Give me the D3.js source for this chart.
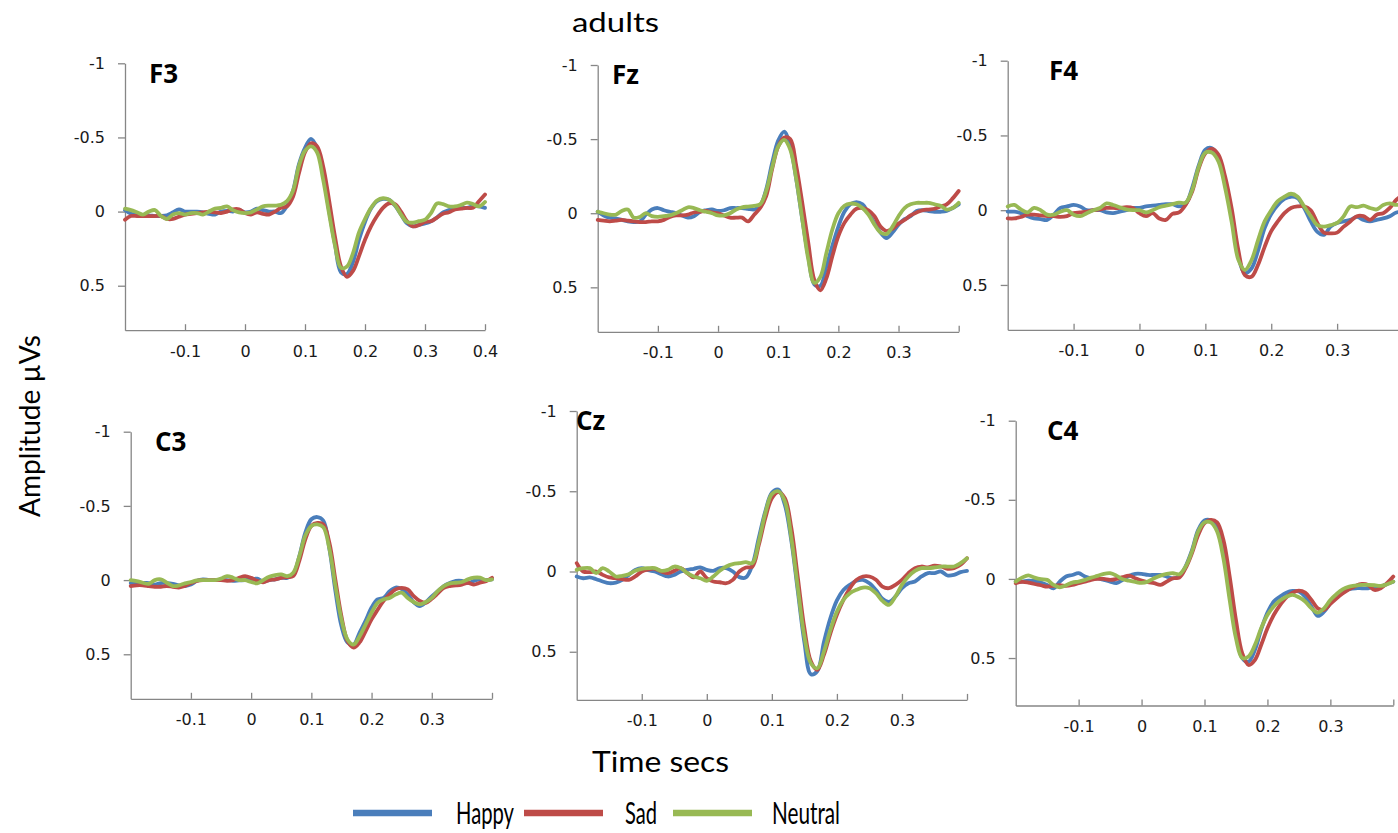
<!DOCTYPE html>
<html><head><meta charset="utf-8">
<script src="https://cdn.jsdelivr.net/npm/d3@7"></script>
<style>body{margin:0;background:#fff} svg{display:block}</style>
</head><body><svg id="chart" width="1398" height="833"></svg>
<script>
// ---------- data ----------
const time = [-0.2,-0.19,-0.18,-0.17,-0.16,-0.15,-0.14,-0.13,-0.12,-0.11,-0.1,-0.09,-0.08,-0.07,-0.06,-0.05,-0.04,-0.03,-0.02,-0.01,
  0,0.01,0.02,0.03,0.04,0.05,0.06,0.07,0.08,0.09,0.1,0.11,0.12,0.13,0.14,0.15,0.16,0.17,0.18,0.19,
  0.2,0.21,0.22,0.23,0.24,0.25,0.26,0.27,0.28,0.29,0.3,0.31,0.32,0.33,0.34,0.35,0.36,0.37,0.38,0.39,0.4];
const conditions = ["Happy","Sad","Neutral"];
const electrodes = ["F3","Fz","F4","C3","Cz","C4"];
const yTickValues = [-1,-0.5,0,0.5];
const xTickValues = [-0.1,0,0.1,0.2,0.3,0.4];

const F3_happy = [-0.01,0.015,0.02,0.025,0.025,0.03,0.03,0.025,0.005,-0.015,0,0,0,0.005,0.015,0.02,0,-0.005,0,-0.01,0.005,0,-0.02,-0.01,0,0,0.01,
  -0.04,-0.14,-0.32,-0.43,-0.49,-0.43,-0.26,-0.01,0.22,0.41,0.42,0.34,0.19,0.07,-0.02,-0.07,-0.085,-0.08,-0.04,0.02,0.08,0.10,0.09,0.08,0.065,0.04,0.005,-0.01,-0.025,-0.025,-0.025,-0.035,-0.035,-0.025];
const F3_sad = [0.055,0.03,0.03,0.03,0.03,0.03,0.03,0.05,0.05,0.035,0.02,0.015,0.01,0.005,0,0.005,0.01,0,-0.015,-0.015,0.01,0.02,0.005,0.015,0.02,0,-0.025,
  -0.035,-0.10,-0.26,-0.40,-0.46,-0.44,-0.31,-0.08,0.17,0.37,0.44,0.40,0.30,0.19,0.10,0.03,-0.025,-0.055,-0.05,0.00,0.065,0.10,0.09,0.07,0.065,0.04,0.015,0.005,-0.015,-0.02,-0.025,-0.025,-0.07,-0.115];
const F3_neutral = [-0.02,-0.01,0.005,0.02,0,-0.01,0.03,0.05,0.02,0.01,0.02,0.01,0.01,0.02,0,-0.02,-0.025,-0.035,-0.01,0.005,0.01,0.005,-0.015,-0.035,-0.04,-0.04,-0.045,
  -0.07,-0.14,-0.31,-0.41,-0.44,-0.40,-0.22,0.01,0.23,0.38,0.37,0.28,0.14,0.05,-0.025,-0.075,-0.09,-0.08,-0.045,0.02,0.07,0.075,0.065,0.055,0.01,-0.055,-0.05,-0.035,-0.035,-0.045,-0.06,-0.05,-0.035,-0.065];

const Fz_happy = [-0.01,0.015,0.03,0.035,0.045,0.055,0.06,0.055,0.01,-0.025,-0.035,-0.02,-0.01,0,0.015,0.03,0.02,-0.01,-0.02,-0.025,-0.015,-0.02,-0.035,-0.035,-0.035,-0.03,-0.025,
  -0.05,-0.16,-0.34,-0.49,-0.55,-0.45,-0.23,0.04,0.29,0.48,0.49,0.36,0.22,0.09,-0.01,-0.06,-0.075,-0.06,0.00,0.065,0.13,0.167,0.13,0.077,0.04,0.02,-0.015,-0.02,-0.015,-0.01,-0.01,-0.015,-0.035,-0.06];
const Fz_sad = [0.045,0.05,0.055,0.05,0.045,0.05,0.055,0.06,0.06,0.055,0.055,0.045,0.025,0.015,0.015,0.01,-0.005,-0.01,-0.015,-0.005,0,0.015,0.03,0.03,0.03,0.055,0.01,
  -0.035,-0.115,-0.30,-0.45,-0.51,-0.50,-0.32,-0.07,0.20,0.45,0.52,0.44,0.29,0.155,0.065,0.01,-0.03,-0.035,-0.02,0.02,0.09,0.12,0.105,0.07,0.045,0.015,-0.005,-0.02,-0.025,-0.03,-0.045,-0.06,-0.10,-0.15];
const Fz_neutral = [-0.01,0,0.01,0.01,-0.015,-0.025,0.03,0.025,0,0.02,0.025,0.02,0.015,0,-0.02,-0.04,-0.035,-0.02,-0.01,0,0.015,0.015,0,-0.025,-0.04,-0.045,-0.05,
  -0.06,-0.15,-0.31,-0.45,-0.495,-0.43,-0.23,0.04,0.31,0.47,0.43,0.27,0.11,0.00,-0.05,-0.065,-0.06,-0.035,0.01,0.077,0.13,0.14,0.09,0.02,-0.035,-0.06,-0.07,-0.07,-0.07,-0.06,-0.05,-0.025,-0.035,-0.07];

const F4_happy = [0.01,0.01,0.02,0.04,0.055,0.06,0.065,0.03,-0.015,-0.025,-0.035,-0.025,0,0,0,0.015,0.02,0.01,0,-0.015,-0.015,-0.025,-0.03,-0.035,-0.04,-0.04,-0.025,
  -0.04,-0.15,-0.30,-0.405,-0.415,-0.35,-0.18,0.04,0.31,0.42,0.39,0.27,0.12,0.025,-0.035,-0.075,-0.09,-0.08,-0.015,0.075,0.145,0.165,0.11,0.085,0.075,0.065,0.045,0.065,0.075,0.065,0.055,0.04,0.015,0.01];
const F4_sad = [0.055,0.055,0.045,0.03,0.03,0.035,0.04,0.04,0.045,0.04,0.02,0.015,0.01,0,-0.005,-0.015,-0.015,-0.015,-0.02,-0.015,0.02,0.04,0.02,0.055,0.065,0.025,0.015,
  -0.035,-0.125,-0.28,-0.38,-0.41,-0.37,-0.225,-0.01,0.265,0.435,0.445,0.365,0.245,0.14,0.075,0.02,-0.015,-0.025,-0.025,0,0.085,0.15,0.155,0.15,0.11,0.075,0.04,0.04,0.065,0.03,0.02,-0.015,-0.07,-0.10];
const F4_neutral = [-0.025,-0.035,-0.005,0.015,-0.015,0,0.03,0.03,0.01,0,0.03,0.04,0.02,0,-0.015,-0.045,-0.035,-0.02,-0.005,0,0,0.015,0,-0.02,-0.03,-0.04,-0.05,
  -0.05,-0.135,-0.29,-0.385,-0.385,-0.325,-0.15,0.08,0.33,0.40,0.335,0.2,0.075,0,-0.06,-0.09,-0.11,-0.09,-0.025,0.04,0.1,0.11,0.1,0.085,0.04,-0.025,-0.02,-0.03,-0.015,-0.005,-0.035,-0.045,-0.035,-0.045];

const C3_happy = [0.02,0.02,0.02,0.02,0.03,0.02,0.02,0.025,0.035,0.04,0.03,0.005,-0.005,0,0,0,0,0.005,0.002,0,-0.005,-0.01,0.01,0,-0.005,-0.015,-0.015,
  -0.04,-0.16,-0.32,-0.41,-0.425,-0.40,-0.21,0.075,0.31,0.42,0.435,0.355,0.275,0.185,0.13,0.12,0.075,0.05,0.06,0.095,0.15,0.175,0.15,0.11,0.075,0.04,0.02,0.005,0.005,0.02,0.005,-0.005,0,-0.005];
const C3_sad = [0.04,0.035,0.035,0.04,0.045,0.045,0.04,0.045,0.05,0.04,0.02,0.005,0,0,0,0,0.005,0,-0.015,-0.027,-0.015,0.005,0.015,0,-0.005,-0.015,-0.02,
  -0.027,-0.13,-0.275,-0.365,-0.385,-0.375,-0.25,0,0.245,0.41,0.455,0.42,0.345,0.265,0.2,0.14,0.097,0.063,0.052,0.063,0.108,0.14,0.153,0.126,0.09,0.052,0.04,0.036,0.03,0.018,0.03,0.018,0.007,-0.015];
const C3_neutral = [0,0.007,0.018,0.025,0,-0.005,0.018,0.04,0.036,0.022,0.013,0.002,0,0,0,-0.01,-0.027,-0.016,0,0,0.013,0.022,0,-0.022,-0.034,-0.038,-0.027,
  -0.05,-0.16,-0.30,-0.365,-0.375,-0.355,-0.21,0.04,0.265,0.40,0.435,0.38,0.30,0.22,0.153,0.13,0.12,0.097,0.085,0.12,0.148,0.164,0.148,0.12,0.074,0.04,0.022,0.018,0.013,-0.005,-0.016,-0.016,0,-0.005];

const Cz_happy = [0.031,0.042,0.037,0.048,0.062,0.073,0.069,0.052,0.021,-0.01,-0.021,-0.008,0,0.017,0.031,0.021,0,-0.01,-0.017,-0.025,-0.01,-0.004,-0.021,-0.021,0,0.035,0.037,
  -0.04,-0.21,-0.375,-0.49,-0.51,-0.415,-0.19,0.125,0.44,0.64,0.62,0.44,0.29,0.18,0.115,0.083,0.058,0.052,0.073,0.115,0.17,0.19,0.156,0.104,0.073,0.062,0.031,0.01,0.01,0,0.025,0.021,0.004,-0.004];
const Cz_sad = [-0.052,0,0.004,0,0.021,0.037,0.042,0.048,0.052,0.031,0,-0.012,-0.017,0,0.01,-0.004,-0.021,0.01,0.037,0,0.042,0.062,0.067,0.073,0.052,0,-0.025,
  -0.03,-0.166,-0.333,-0.457,-0.495,-0.457,-0.27,0.04,0.353,0.56,0.613,0.52,0.385,0.27,0.177,0.104,0.052,0.031,0.031,0.052,0.094,0.104,0.083,0.052,0.01,-0.021,-0.031,-0.025,-0.037,-0.031,-0.017,-0.021,-0.042,-0.083];
const Cz_neutral = [-0.01,-0.021,-0.021,0.01,-0.021,0,0.031,0.027,0.017,-0.004,-0.017,-0.021,-0.021,-0.004,-0.01,-0.031,-0.021,0.01,0.031,0.042,0.058,0.031,-0.004,-0.031,-0.046,-0.052,-0.058,
  -0.052,-0.187,-0.364,-0.482,-0.5,-0.437,-0.208,0.104,0.405,0.572,0.603,0.5,0.364,0.25,0.177,0.135,0.114,0.1,0.104,0.135,0.183,0.208,0.156,0.083,0.031,-0.004,-0.021,-0.021,-0.025,-0.031,-0.031,-0.031,-0.052,-0.083];

const C4_happy = [0.017,0.017,0.011,0.013,0.023,0.038,0.059,0.017,-0.015,-0.025,-0.036,-0.015,-0.004,-0.004,0.006,0.017,0.027,0.006,-0.019,-0.032,-0.032,-0.025,-0.025,-0.025,-0.015,-0.004,-0.015,
  -0.08,-0.18,-0.31,-0.37,-0.37,-0.32,-0.16,0.09,0.333,0.50,0.523,0.45,0.32,0.213,0.143,0.112,0.087,0.076,0.08,0.112,0.175,0.234,0.207,0.154,0.112,0.08,0.065,0.059,0.059,0.059,0.053,0.049,0.032,0.017];
const C4_sad = [0.027,0.019,0.023,0.032,0.04,0.049,0.044,0.04,0.044,0.038,0.027,0.017,0.006,0,0,0.006,0,-0.011,-0.021,-0.004,0.011,0.021,0.027,0.038,0.017,-0.004,-0.008,
  -0.068,-0.162,-0.278,-0.352,-0.373,-0.357,-0.247,-0.015,0.26,0.47,0.544,0.513,0.418,0.312,0.228,0.165,0.116,0.087,0.074,0.087,0.133,0.186,0.196,0.158,0.122,0.091,0.065,0.044,0.032,0.038,0.07,0.059,0.027,-0.015];
const C4_neutral = [0.017,-0.008,-0.023,-0.008,0.002,0.006,0.038,0.053,0.04,0.023,0.017,0.006,-0.008,-0.019,-0.032,-0.036,-0.021,0.002,0.011,0.019,0.025,0.017,-0.004,-0.021,-0.032,-0.036,-0.03,
  -0.078,-0.173,-0.30,-0.357,-0.357,-0.30,-0.131,0.133,0.376,0.50,0.49,0.418,0.312,0.228,0.175,0.137,0.112,0.101,0.116,0.143,0.186,0.213,0.186,0.133,0.095,0.065,0.049,0.042,0.038,0.038,0.04,0.044,0.034,0.017];

const seriesByElectrode = {
  F3: [F3_happy, F3_sad, F3_neutral],
  Fz: [Fz_happy, Fz_sad, Fz_neutral],
  F4: [F4_happy, F4_sad, F4_neutral],
  C3: [C3_happy, C3_sad, C3_neutral],
  Cz: [Cz_happy, Cz_sad, Cz_neutral],
  C4: [C4_happy, C4_sad, C4_neutral]
};

// ---------- layout & style ----------
const colors = ["#4a7ebb", "#be4b48", "#98b954"];
const axisColor = "#868686";
const layout = {
  F3: {x0:125,   x1:485,    yTop:63.3,  yBot:330.2, lx:149, ly:83,  lastLabel:true},
  Fz: {x0:597.7, x1:958.7,  yTop:65,    yBot:331.8, lx:612, ly:84,  lastLabel:false},
  F4: {x0:1007.7,x1:1403,   yTop:60.7,  yBot:329.8, lx:1049,ly:80,  lastLabel:false},
  C3: {x0:130.7, x1:492,    yTop:431.7, yBot:698.8, lx:155, ly:451, lastLabel:false},
  Cz: {x0:576.7, x1:967,    yTop:411,   yBot:699.9, lx:576, ly:430, lastLabel:false},
  C4: {x0:1015.7,x1:1393.3, yTop:420.7, yBot:705.5, lx:1047,ly:440, lastLabel:false}
};

const svg = d3.select("#chart");
const tickFont = "'DejaVu Sans', Verdana, sans-serif";
const labelFont = "Lato, 'Open Sans', sans-serif";
const panelFont = "'Open Sans', Lato, sans-serif";

electrodes.forEach(name => {
  const L = layout[name];
  const x = d3.scaleLinear().domain([-0.2, 0.4]).range([L.x0, L.x1]);
  const y = d3.scaleLinear().domain([-1, 0.8]).range([L.yTop, L.yBot]);
  const g = svg.append("g");

  const yAxis = d3.axisLeft(y).tickValues(yTickValues).tickSizeInner(7).tickSizeOuter(0).tickPadding(13)
    .tickFormat(d => String(d));
  const gy = g.append("g").attr("transform", `translate(${L.x0},0)`).call(yAxis);

  const xAxis = d3.axisBottom(x).tickValues(xTickValues).tickSizeInner(-6).tickSizeOuter(0).tickPadding(15)
    .tickFormat(d => (d === 0.4 && !L.lastLabel) ? "" : String(d));
  const gx = g.append("g").attr("transform", `translate(0,${L.yBot})`).call(xAxis);

  [gx, gy].forEach(a => {
    a.selectAll("path.domain").attr("stroke", axisColor).attr("stroke-width", 1.3);
    a.selectAll(".tick line").attr("stroke", axisColor).attr("stroke-width", 1.3);
    a.selectAll(".tick text").attr("fill", "#1a1a1a").style("font-family", tickFont).style("font-size", "16px");
  });

  const line = d3.line()
    .x((d, i) => x(time[i]))
    .y(d => y(d))
    .curve(d3.curveCatmullRom.alpha(0.5));

  seriesByElectrode[name].forEach((vals, k) => {
    g.append("path")
      .datum(vals)
      .attr("fill", "none")
      .attr("stroke", colors[k])
      .attr("stroke-width", 3.8)
      .attr("stroke-linejoin", "round")
      .attr("stroke-linecap", "round")
      .attr("d", line);
  });

  g.append("text")
    .attr("x", L.lx).attr("y", L.ly)
    .style("font-family", panelFont).style("font-weight", 700).style("font-size", "26px")
    .attr("fill", "#000")
    .text(name);
});

// titles
svg.append("text").attr("x", 572).attr("y", 32)
  .style("font-family", labelFont).style("font-size", "26px")
  .attr("textLength", 87).attr("lengthAdjust", "spacingAndGlyphs")
  .text("adults");

svg.append("text").attr("x", 592).attr("y", 772)
  .style("font-family", labelFont).style("font-size", "29px")
  .attr("textLength", 137).attr("lengthAdjust", "spacingAndGlyphs")
  .text("Time secs");

svg.append("text")
  .attr("transform", "translate(40,426) rotate(-90)")
  .attr("text-anchor", "middle")
  .style("font-family", labelFont).style("font-size", "29px")
  .attr("textLength", 182).attr("lengthAdjust", "spacingAndGlyphs")
  .text("Amplitude µVs");

// legend
const legendItems = [
  {x1:353, x2:432, tx:456, tw:58},
  {x1:524, x2:603, tx:625, tw:32},
  {x1:673, x2:752, tx:772, tw:68}
];
const lg = svg.append("g");
conditions.forEach((c, k) => {
  const it = legendItems[k];
  lg.append("line").attr("x1", it.x1).attr("x2", it.x2).attr("y1", 813).attr("y2", 813)
    .attr("stroke", colors[k]).attr("stroke-width", 6.5);
  lg.append("text").attr("x", it.tx).attr("y", 824)
    .style("font-family", labelFont).style("font-size", "30px")
    .attr("textLength", it.tw).attr("lengthAdjust", "spacingAndGlyphs")
    .text(c);
});
</script></body></html>
